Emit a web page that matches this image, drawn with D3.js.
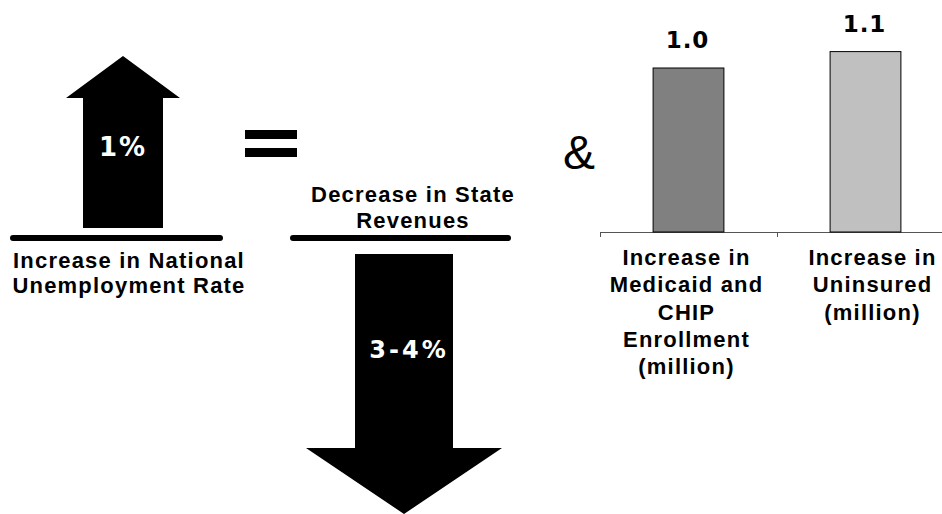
<!DOCTYPE html>
<html>
<head>
<meta charset="utf-8">
<script src="https://cdn.jsdelivr.net/npm/d3@7"></script>
<style>
  html, body { margin: 0; padding: 0; background: #fff; }
  svg { display: block; }
  text { font-weight: bold; fill: #000; }
  .caption { font-family: "Liberation Sans", Arial, sans-serif; font-size: 22px; letter-spacing: 1.2px; }
  .figure { font-family: "DejaVu Sans", Verdana, sans-serif; }
</style>
</head>
<body>
<svg id="chart" width="942" height="514"></svg>
<script>
// Headline figures shown on the arrows
const arrowLabels = ["1%", "3-4%"];
const arrowCaptions = [
  ["Increase in National", "Unemployment Rate"],
  ["Decrease in State", "Revenues"]
];

// Bar chart: enrollment / uninsured effects (millions)
const barCategories = ["Medicaid and CHIP Enrollment", "Uninsured"];
const barLabelLines = [
  ["Increase in", "Medicaid and", "CHIP", "Enrollment", "(million)"],
  ["Increase in", "Uninsured", "(million)"]
];
const barValues = [1.0, 1.1];
const barValueLabels = ["1.0", "1.1"];
const barFills = ["#808080", "#c0c0c0"];

const svg = d3.select("#chart");

// ---------- Up arrow: unemployment rate ----------
const up = { cx: 123, tip: 56, headBase: 98, headHalf: 57, shaftHalf: 40, bottom: 228 };
svg.append("path")
  .attr("d", d3.line()([
    [up.cx, up.tip],
    [up.cx + up.headHalf, up.headBase],
    [up.cx + up.shaftHalf, up.headBase],
    [up.cx + up.shaftHalf, up.bottom],
    [up.cx - up.shaftHalf, up.bottom],
    [up.cx - up.shaftHalf, up.headBase],
    [up.cx - up.headHalf, up.headBase]
  ]) + "Z")
  .attr("fill", "#000");

svg.append("text")
  .attr("class", "figure")
  .attr("x", 123).attr("y", 156)
  .attr("text-anchor", "middle")
  .attr("font-size", 26)
  .style("letter-spacing", "2px")
  .style("fill", "#fff")
  .text(arrowLabels[0]);

// Baseline under the up arrow and its caption
svg.append("line")
  .attr("x1", 13).attr("x2", 220).attr("y1", 238).attr("y2", 238)
  .attr("stroke", "#000").attr("stroke-width", 6).attr("stroke-linecap", "round");

svg.append("g").selectAll("text")
  .data(arrowCaptions[0])
  .join("text")
  .attr("class", "caption")
  .attr("x", 129)
  .attr("y", (d, i) => 268 + i * 25)
  .attr("text-anchor", "middle")
  .text(d => d);

// ---------- Equals sign ----------
svg.append("g").selectAll("rect")
  .data([130, 148])
  .join("rect")
  .attr("x", 245).attr("y", d => d)
  .attr("width", 52).attr("height", 9)
  .attr("fill", "#000");

// ---------- Down arrow: state revenues ----------
svg.append("g").selectAll("text")
  .data(arrowCaptions[1])
  .join("text")
  .attr("class", "caption")
  .attr("x", 413)
  .attr("y", (d, i) => 202 + i * 26)
  .attr("text-anchor", "middle")
  .text(d => d);

svg.append("line")
  .attr("x1", 293).attr("x2", 508).attr("y1", 238).attr("y2", 238)
  .attr("stroke", "#000").attr("stroke-width", 6).attr("stroke-linecap", "round");

const down = { cx: 404, top: 254, headBase: 448, headHalf: 98, shaftHalf: 49, tip: 514 };
svg.append("path")
  .attr("d", d3.line()([
    [down.cx - down.shaftHalf, down.top],
    [down.cx + down.shaftHalf, down.top],
    [down.cx + down.shaftHalf, down.headBase],
    [down.cx + down.headHalf, down.headBase],
    [down.cx, down.tip],
    [down.cx - down.headHalf, down.headBase],
    [down.cx - down.shaftHalf, down.headBase]
  ]) + "Z")
  .attr("fill", "#000");

svg.append("text")
  .attr("class", "figure")
  .attr("x", 409).attr("y", 358)
  .attr("text-anchor", "middle")
  .attr("font-size", 24)
  .style("letter-spacing", "3px")
  .style("fill", "#fff")
  .text(arrowLabels[1]);

// ---------- Ampersand ----------
svg.append("text")
  .attr("x", 579).attr("y", 169)
  .attr("text-anchor", "middle")
  .attr("font-size", 48)
  .style("font-family", "'Liberation Sans', Arial, sans-serif")
  .style("font-weight", "normal")
  .text("&");

// ---------- Bar chart ----------
const x = d3.scaleBand()
  .domain(barCategories)
  .range([600, 954])
  .paddingInner(0).paddingOuter(0);

const y = d3.scaleLinear()
  .domain([0, 1.4])
  .range([232, 2.4]);

const barWidth = x.bandwidth() * 0.4;

const axis = svg.append("g")
  .attr("transform", `translate(0,${y(0)})`)
  .call(d3.axisBottom(x).tickSize(0).tickFormat(""));
axis.select(".domain").attr("stroke", "#555").attr("stroke-width", 1)
  .attr("d", `M600,0.5V0.5H954`);

// tick marks at the band boundaries
svg.append("g").selectAll("line")
  .data([0, 1, 2])
  .join("line")
  .attr("x1", i => 600.5 + i * x.step())
  .attr("x2", i => 600.5 + i * x.step())
  .attr("y1", y(0)).attr("y2", y(0) + 5)
  .attr("stroke", "#555").attr("stroke-width", 1);

svg.append("g").selectAll("rect")
  .data(barValues)
  .join("rect")
  .attr("x", (d, i) => x(barCategories[i]) + (x.bandwidth() - barWidth) / 2)
  .attr("y", d => y(d))
  .attr("width", barWidth)
  .attr("height", d => y(0) - y(d))
  .attr("fill", (d, i) => barFills[i])
  .attr("stroke", "#000")
  .attr("stroke-width", 1);

svg.append("g").selectAll("text")
  .data(barValues)
  .join("text")
  .attr("class", "figure")
  .attr("x", (d, i) => x(barCategories[i]) + x.bandwidth() / 2 - 1)
  .attr("y", d => y(d) - 20)
  .attr("text-anchor", "middle")
  .attr("font-size", 23)
  .style("letter-spacing", "1px")
  .text((d, i) => barValueLabels[i]);

const catLabels = svg.append("g").selectAll("text")
  .data(barLabelLines)
  .join("text")
  .attr("class", "caption")
  .attr("text-anchor", "middle")
  .attr("transform", (d, i) => `translate(${x(barCategories[i]) + x.bandwidth() / 2 + (i === 1 ? 7 : -2)},265)`);

catLabels.selectAll("tspan")
  .data(d => d)
  .join("tspan")
  .attr("x", 0)
  .attr("y", (d, j) => Math.round(j * 27.3))
  .text(d => d);
</script>
</body>
</html>
